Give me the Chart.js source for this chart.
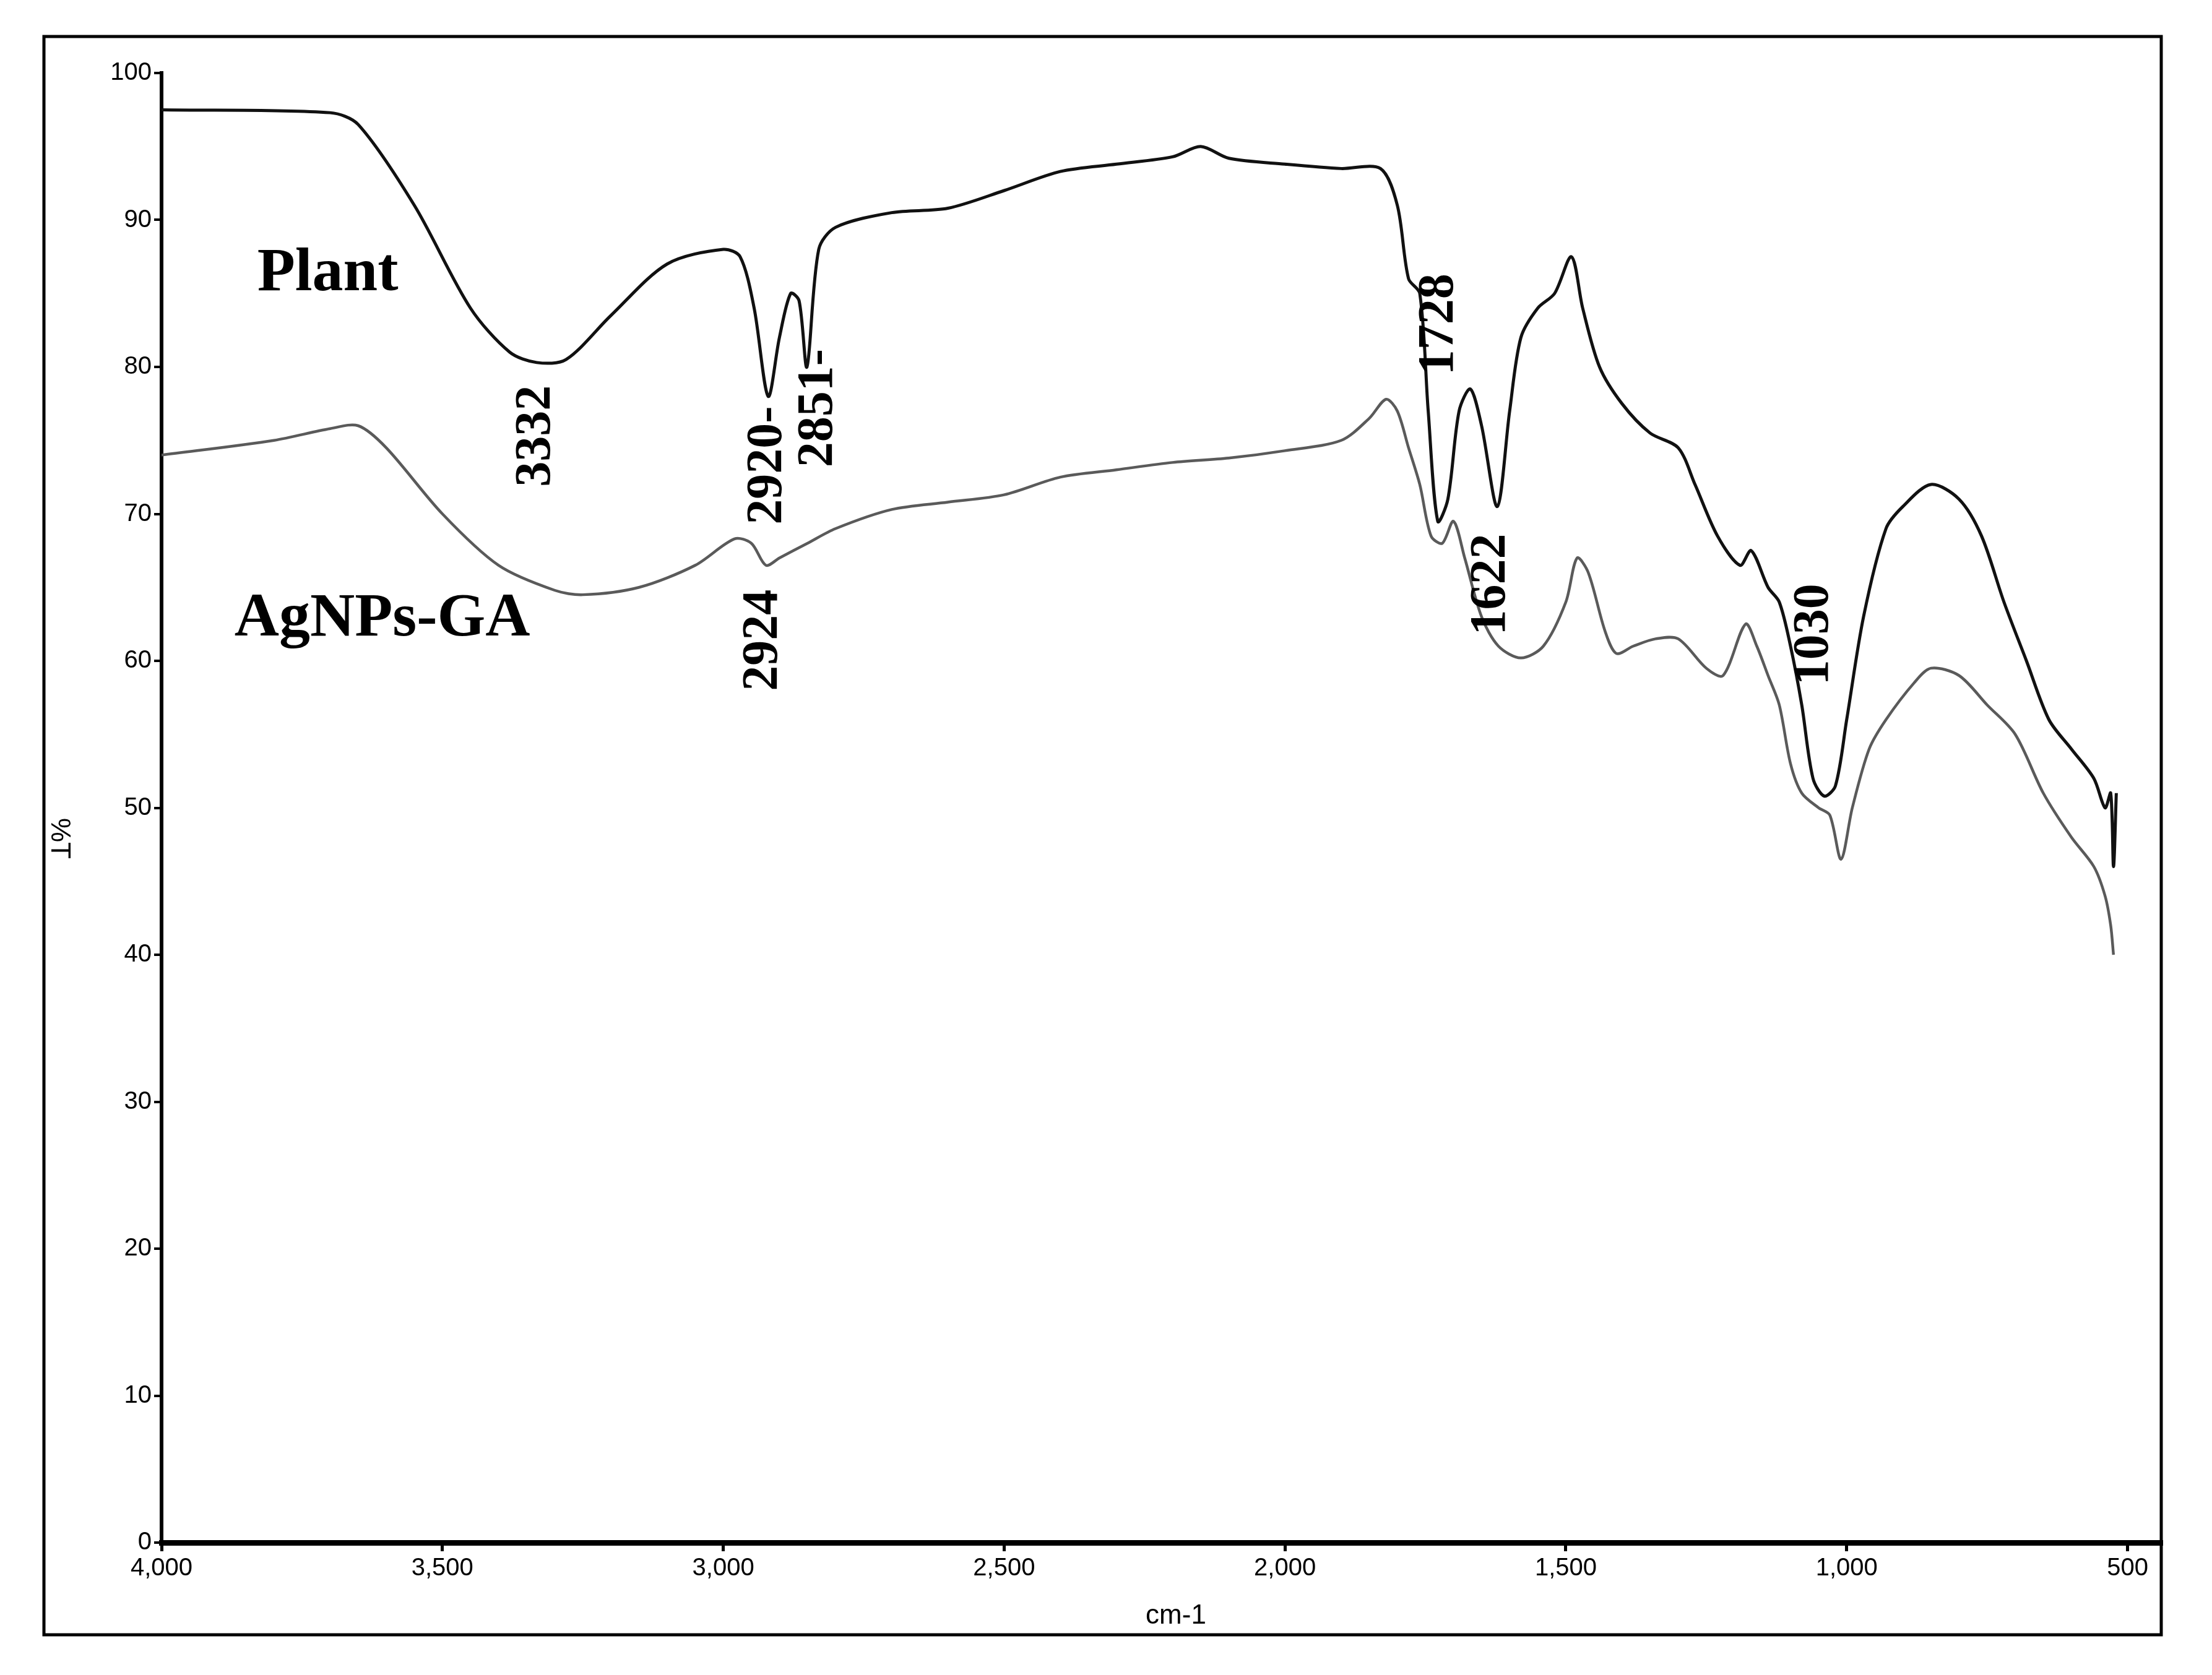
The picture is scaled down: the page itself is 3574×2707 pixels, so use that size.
<!DOCTYPE html>
<html><head><meta charset="utf-8">
<script src="https://cdn.jsdelivr.net/npm/chart.js@4"></script>
<style>html,body{margin:0;padding:0;background:#fff}#c{display:block}</style>
</head><body>
<canvas id="c" width="3574" height="2707"></canvas>
<script>
const plantX=[4000,3700,3650,3550,3450,3380,3332,3280,3200,3100,3000,2970,2945,2920,2900,2880,2865,2851,2830,2800,2700,2600,2500,2400,2300,2200,2150,2100,2000,1900,1830,1800,1780,1760,1745,1728,1710,1690,1670,1650,1622,1600,1580,1550,1520,1490,1470,1440,1400,1350,1300,1270,1230,1190,1170,1140,1120,1100,1080,1060,1040,1020,1000,970,930,900,850,800,760,720,680,640,600,560,540,530,525,520];
const plantY=[97.5,97.3,96.5,91,84,81,80.3,80.5,83.5,87,88,87.5,84,78,82,85,84.5,80,88,89.5,90.5,90.8,92,93.3,93.8,94.3,95,94.2,93.8,93.5,93.5,91,86,85,77,69.5,71,77,78.5,76,70.5,77,82,84,85,87.5,84,80,77.5,75.5,74.5,72,68.5,66.5,67.5,65,64,61,57,52,50.8,51.5,56,63,69,70.5,72,71,68.5,64,60,56,54,52,50,51,46,51];
const agX=[4000,3800,3700,3650,3600,3500,3400,3300,3250,3150,3050,2980,2950,2924,2900,2850,2800,2700,2600,2500,2400,2300,2200,2100,2000,1900,1850,1820,1800,1780,1760,1740,1720,1700,1680,1650,1620,1580,1540,1500,1480,1460,1430,1410,1380,1340,1300,1250,1220,1180,1160,1140,1120,1100,1080,1050,1030,1010,990,960,930,880,850,800,750,700,650,600,560,540,530,525];
const agY=[74,75,75.8,76,74.5,70,66.5,64.8,64.5,65,66.5,68.3,68,66.5,67,68,69,70.3,70.8,71.3,72.5,73,73.5,73.8,74.3,75,76.5,77.8,77,74.5,72,68.5,68,69.5,67,63,61,60.2,61,64,67,66,62,60.5,61,61.5,61.5,59.5,59,62.5,61,59,57,53,51,50,49.5,46.5,50,54,56,58.5,59.5,59,57,55,51,48,46,44,42,40];
const xTicks=[4000,3500,3000,2500,2000,1500,1000,500];
const yTicks=[0,10,20,30,40,50,60,70,80,90,100];
const peakLabels=[
 {t:'3332',x:3332,y:75.3},{t:'2920-',x:2920,y:73.3},{t:'2851-',x:2830,y:77.2},
 {t:'1728',x:1725,y:82.9},{t:'1622',x:1632,y:65.2},{t:'2924',x:2928,y:61.4},{t:'1030',x:1057,y:61.8}];
const seriesLabels=[{t:'Plant',x:3704,y:86.3},{t:'AgNPs-GA',x:3607,y:62.8}];

const toPts=(xs,ys)=>xs.map((x,i)=>({x:x,y:ys[i]}));
const deco={id:'deco',
 afterDraw(ch){
  const c=ch.ctx,xs=ch.scales.x,ys=ch.scales.y;
  c.save();
  c.strokeStyle='#000';c.lineWidth=5;
  c.strokeRect(71,59,3492-71,2642-59);
  c.fillStyle='#000';
  c.font='bold 82px "Liberation Serif", "Times New Roman", serif';
  c.textAlign='center';c.textBaseline='middle';
  peakLabels.forEach(p=>{c.save();c.translate(xs.getPixelForValue(p.x),ys.getPixelForValue(p.y));c.rotate(-Math.PI/2);c.fillText(p.t,0,0);c.restore();});
  c.font='bold 100px "Liberation Serif", "Times New Roman", serif';
  seriesLabels.forEach(p=>c.fillText(p.t,xs.getPixelForValue(p.x),ys.getPixelForValue(p.y)));
  c.font='44px "Liberation Sans", Arial, sans-serif';
  c.fillText('cm-1',1900,2612);
  c.save();c.translate(95,1355);c.rotate(Math.PI/2);c.fillText('%T',0,0);c.restore();
  c.restore();
 }};
new Chart(document.getElementById('c'),{
 type:'line',
 data:{datasets:[
  {data:toPts(plantX,plantY),borderColor:'#111',borderWidth:5,pointRadius:0,tension:0.3},
  {data:toPts(agX,agY),borderColor:'#5a5a5a',borderWidth:4.5,pointRadius:0,tension:0.3}]},
 options:{responsive:false,animation:false,
  layout:{padding:{left:0,top:118,right:82,bottom:64}},
  plugins:{legend:{display:false},tooltip:{enabled:false}},
  scales:{
   x:{type:'linear',reverse:true,min:440,max:4000,
    afterBuildTicks:a=>{a.ticks=xTicks.map(v=>({value:v}));},
    afterFit:a=>{a.height=150;},
    grid:{drawOnChartArea:false,color:'#000',tickLength:14,lineWidth:5},
    border:{color:'#000',width:9},
    ticks:{color:'#000',font:{size:40,family:'"Liberation Sans", Arial'},maxRotation:0,padding:4}},
   y:{min:0,max:100,
    afterBuildTicks:a=>{a.ticks=yTicks.map(v=>({value:v}));},
    afterFit:a=>{a.width=261;},
    grid:{drawOnChartArea:false,color:'#000',tickLength:12,lineWidth:4},
    border:{color:'#000',width:6},
    ticks:{color:'#000',font:{size:40,family:'"Liberation Sans", Arial'},padding:4}}
  }},
 plugins:[deco]});
</script>
</body></html>
